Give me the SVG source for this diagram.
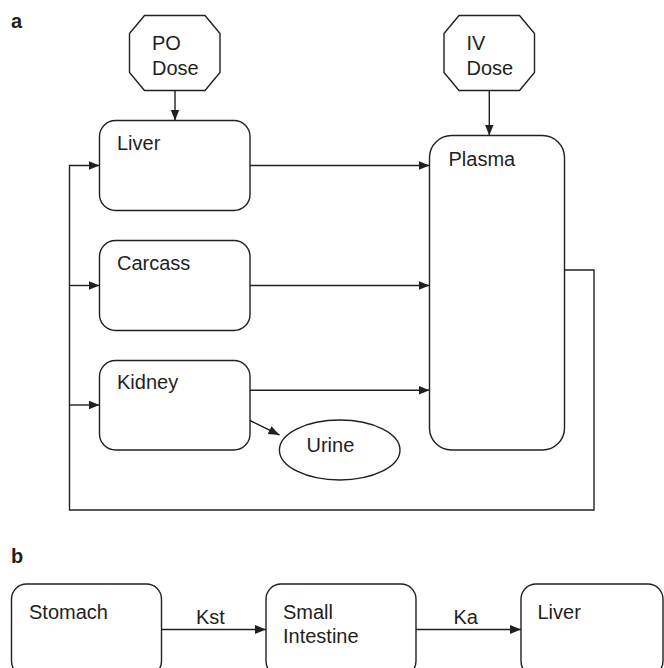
<svg xmlns="http://www.w3.org/2000/svg" width="664" height="668" viewBox="0 0 664 668">
<defs>
<style>
.box{fill:#fff;stroke:#231f20;stroke-width:1.4}
.ln{fill:none;stroke:#231f20;stroke-width:1.4}
.t{font-family:"Liberation Sans",Arial,Helvetica,sans-serif;font-size:20px;fill:#231f20}
.lbl{font-family:"Liberation Sans",Arial,Helvetica,sans-serif;font-size:20px;font-weight:bold;fill:#231f20}
</style>
<marker id="ah" viewBox="0 0 11 10" refX="11" refY="5" markerWidth="11" markerHeight="10" markerUnits="userSpaceOnUse" orient="auto">
<path d="M0,0.6 L11,5 L0,9.4 Z" fill="#231f20"/>
</marker>
</defs>
<rect width="664" height="668" fill="#fff"/>
<text class="lbl" x="11" y="28">a</text>
<text class="lbl" x="11" y="563">b</text>

<g id="connectors">
<line class="ln" x1="175" y1="90.7" x2="175" y2="120.5" marker-end="url(#ah)"/>
<line class="ln" x1="489.3" y1="90.7" x2="489.3" y2="135.5" marker-end="url(#ah)"/>
<line class="ln" x1="250" y1="165.5" x2="429.5" y2="165.5" marker-end="url(#ah)"/>
<line class="ln" x1="250" y1="285.5" x2="429.5" y2="285.5" marker-end="url(#ah)"/>
<line class="ln" x1="250" y1="390.3" x2="429.5" y2="390.3" marker-end="url(#ah)"/>
<line class="ln" x1="250" y1="420.5" x2="279.5" y2="435" marker-end="url(#ah)"/>
<path class="ln" d="M564.5,270 H594 V510 H69.5 V165.5 H99.5" marker-end="url(#ah)"/>
<line class="ln" x1="69.5" y1="285.5" x2="99.5" y2="285.5" marker-end="url(#ah)"/>
<line class="ln" x1="69.5" y1="405" x2="99.5" y2="405" marker-end="url(#ah)"/>
<line class="ln" x1="161.5" y1="629.5" x2="266" y2="629.5" marker-end="url(#ah)"/>
<line class="ln" x1="416" y1="629.5" x2="521" y2="629.5" marker-end="url(#ah)"/>
<text class="t" x="196" y="624">Kst</text>
<text class="t" x="453.5" y="624">Ka</text>
</g>

<g id="po-dose">
<polygon class="box" points="144.5,15.5 205,15.5 220,33.5 220,72.5 205,90.5 144.5,90.5 129.5,72.5 129.5,33.5"/>
<text class="t" x="152" y="50">PO</text>
<text class="t" x="152" y="75">Dose</text>
</g>
<g id="iv-dose">
<polygon class="box" points="459,15.5 519.5,15.5 534.5,33.5 534.5,72.5 519.5,90.5 459,90.5 444,72.5 444,33.5"/>
<text class="t" x="466.5" y="50">IV</text>
<text class="t" x="466.5" y="75">Dose</text>
</g>
<g id="liver">
<rect class="box" x="99.5" y="120.5" width="150.5" height="90" rx="16" ry="16"/>
<text class="t" x="117" y="150">Liver</text>
</g>
<g id="carcass">
<rect class="box" x="99.5" y="240.5" width="150.5" height="90" rx="16" ry="16"/>
<text class="t" x="117" y="269.5">Carcass</text>
</g>
<g id="kidney">
<rect class="box" x="99.5" y="360.5" width="150.5" height="89.5" rx="16" ry="16"/>
<text class="t" x="117" y="388.5">Kidney</text>
</g>
<g id="plasma">
<rect class="box" x="429.5" y="135.5" width="135" height="314.5" rx="22" ry="22"/>
<text class="t" x="448.5" y="165.5">Plasma</text>
</g>
<g id="urine">
<ellipse class="box" cx="339.7" cy="450" rx="60.3" ry="30"/>
<text class="t" x="306.5" y="451.5">Urine</text>
</g>

<g id="stomach">
<rect class="box" x="11.5" y="584" width="150" height="92" rx="15" ry="15"/>
<text class="t" x="29" y="619">Stomach</text>
</g>
<g id="small-intestine">
<rect class="box" x="266" y="584" width="150" height="92" rx="15" ry="15"/>
<text class="t" x="283" y="619">Small</text>
<text class="t" x="283" y="643">Intestine</text>
</g>
<g id="liver-b">
<rect class="box" x="521" y="584" width="142" height="92" rx="15" ry="15"/>
<text class="t" x="537.5" y="619">Liver</text>
</g>
</svg>
